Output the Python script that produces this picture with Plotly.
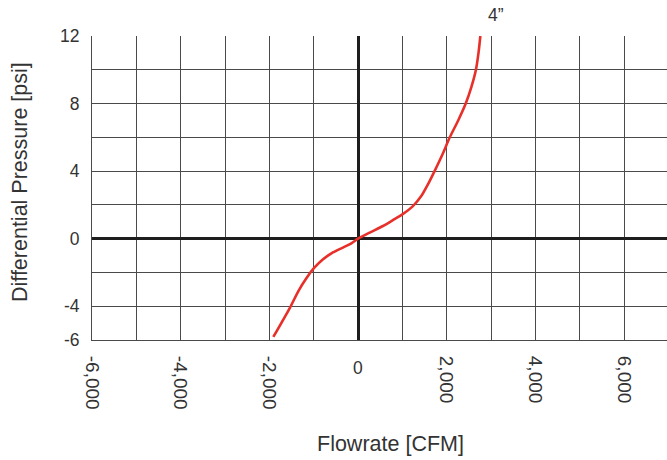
import plotly.graph_objects as go

# Data (4" curve)
flow_cfm = [-1910, -1533, -1345, -1157, -985, -788, -600, -375, -150, 0,
            264, 563, 788, 1000, 1239, 1427, 1577, 1727, 1907, 2070,
            2260, 2430, 2560, 2660, 2718, 2760]
dp_psi = [-5.82, -4.08, -3.10, -2.31, -1.72, -1.22, -0.87, -0.57, -0.28, 0.0,
          0.36, 0.75, 1.10, 1.44, 1.93, 2.52, 3.21, 4.00, 5.0, 6.0,
          7.0, 8.0, 9.0, 10.0, 11.0, 12.0]

x_tickvals = [-6000, -4000, -2000, 2000, 4000, 6000]
x_ticktext = ["-6,000", "-4,000", "-2,000", "2,000", "4,000", "6,000"]
y_tickvals = [12, 8, 4, 0, -4, -6]
y_ticktext = ["12", "8", "4", "0", "-4", "-6"]
series_label = "4\u201d"

FONT = "Liberation Sans, Arial, sans-serif"
TXT = "#333333"
GRID = "#4a4a4a"

fig = go.Figure()
fig.add_trace(go.Scatter(
    x=flow_cfm, y=dp_psi, mode="lines",
    line=dict(color="#e8302a", width=2.6, shape="spline", smoothing=0.6),
    hoverinfo="skip", showlegend=False, cliponaxis=True,
))

PW, PH = 575, 304
fig.update_layout(
    width=667, height=460,
    margin=dict(l=92, r=0, t=36, b=120),
    paper_bgcolor="white", plot_bgcolor="white",
    font=dict(family=FONT, color=TXT, size=17),
    xaxis=dict(
        range=[-6000, 6970], tickmode="array",
        tickvals=x_tickvals, ticktext=x_ticktext, tickangle=90,
        tickfont=dict(size=19, color=TXT),
        showgrid=True, gridcolor=GRID, gridwidth=1,
        minor=dict(tick0=-6000, dtick=1000, showgrid=True, gridcolor=GRID, gridwidth=1),
        zeroline=True, zerolinecolor="#1e1e1e", zerolinewidth=2.6,
        showline=True, linecolor=GRID, linewidth=1,
        ticks="", ticklabelstandoff=11, automargin=False,
        fixedrange=True,
    ),
    yaxis=dict(
        range=[-6, 12], tickmode="array",
        tickvals=y_tickvals, ticktext=y_ticktext,
        tickfont=dict(size=17.5, color=TXT),
        showgrid=True, gridcolor=GRID, gridwidth=1,
        minor=dict(tick0=-6, dtick=2, showgrid=True, gridcolor=GRID, gridwidth=1),
        zeroline=True, zerolinecolor="#1e1e1e", zerolinewidth=2.6,
        showline=True, linecolor=GRID, linewidth=1,
        ticks="", ticklabelstandoff=8, automargin=False,
        fixedrange=True,
    ),
    annotations=[
        dict(text="0", x=0, xref="x", y=-0.052, yref="paper",
             xanchor="center", yanchor="top", showarrow=False,
             font=dict(size=17.5, color=TXT)),
        dict(text=series_label, x=3110, xref="x", y=(340 - 15) / PH, yref="paper",
             xanchor="center", yanchor="middle", showarrow=False,
             font=dict(size=17.5, color=TXT)),
        dict(text="Flowrate [CFM]", x=(390 - 92) / PW, xref="paper",
             y=-(444 - 340) / PH, yref="paper",
             xanchor="center", yanchor="middle", showarrow=False,
             font=dict(size=21.5, color=TXT)),
        dict(text="Differential Pressure [psi]", x=-(92 - 20) / PW, xref="paper",
             y=(340 - 182) / PH, yref="paper", textangle=-90,
             xanchor="center", yanchor="middle", showarrow=False,
             font=dict(size=21.5, color=TXT)),
    ],
)

fig.write_html("out.html", config={"displayModeBar": False},
               post_script="document.body.style.margin='0';document.body.style.overflow='hidden';")
